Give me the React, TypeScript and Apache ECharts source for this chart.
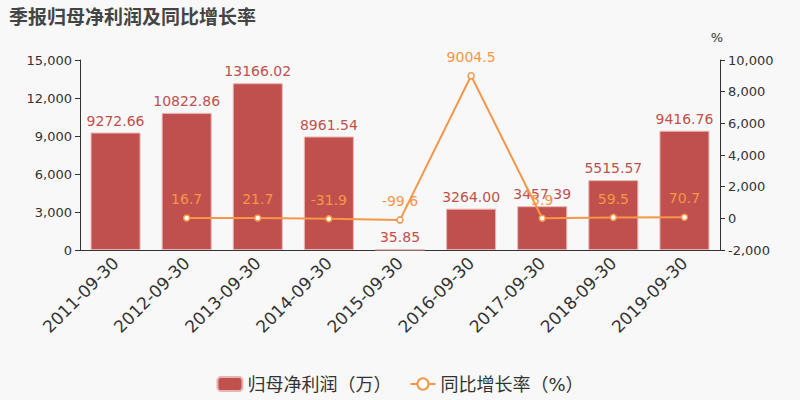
import React, { useEffect, useRef } from 'react';
import * as echarts from 'echarts';

const categories = [
  '2011-09-30', '2012-09-30', '2013-09-30', '2014-09-30', '2015-09-30',
  '2016-09-30', '2017-09-30', '2018-09-30', '2019-09-30'
];
const profitValues = [9272.66, 10822.86, 13166.02, 8961.54, 35.85, 3264.0, 3457.39, 5515.57, 9416.76];
const growthValues: (number | null)[] = [null, 16.7, 21.7, -31.9, -99.6, 9004.5, 5.9, 59.5, 70.7];

const BAR_COLOR = '#c0504d';
const LINE_COLOR = '#f79646';
const FONT = '"DejaVu Sans", "Noto Sans CJK SC", sans-serif';

const App: React.FC = () => {
  const chartRef = useRef<HTMLDivElement>(null);

  useEffect(() => {
    if (!chartRef.current) return;
    document.body.style.margin = '0';
    const chart = echarts.init(chartRef.current, undefined, { renderer: 'svg' });

    const option = {
      animation: false,
      backgroundColor: '#f8f8f8',
      textStyle: { fontFamily: FONT },
      title: {
        text: '季报归母净利润及同比增长率',
        left: 4,
        top: 2,
        textStyle: { fontSize: 19, fontWeight: 'bold', color: '#444', fontFamily: FONT }
      },
      legend: {
        bottom: 2,
        itemWidth: 25,
        itemHeight: 14,
        itemGap: 18,
        textStyle: { fontSize: 18, color: '#333', fontFamily: FONT },
        data: [
          { name: '归母净利润（万）' },
          { name: '同比增长率（%）' }
        ]
      },
      grid: { left: 80, right: 80, top: 60, bottom: 150 },
      xAxis: {
        type: 'category',
        data: categories,
        axisLine: { lineStyle: { color: '#333' } },
        axisTick: { lineStyle: { color: '#333' } },
        axisLabel: { rotate: 45, fontSize: 17, color: '#333', interval: 0, margin: 10 }
      },
      yAxis: [
        {
          type: 'value',
          min: 0,
          max: 15000,
          interval: 3000,
          axisLine: { show: true, lineStyle: { color: '#333' } },
          axisTick: { show: true },
          splitLine: { show: false },
          axisLabel: { fontSize: 13, color: '#333' }
        },
        {
          type: 'value',
          name: '%',
          nameGap: 16,
          nameTextStyle: { fontSize: 13, color: '#333', align: 'center', padding: [0, 0, 0, -6] },
          min: -2000,
          max: 10000,
          interval: 2000,
          axisLine: { show: true, lineStyle: { color: '#333' } },
          axisTick: { show: true },
          splitLine: { show: false },
          axisLabel: { fontSize: 13, color: '#333' }
        }
      ],
      series: [
        {
          name: '归母净利润（万）',
          type: 'bar',
          barWidth: 50,
          yAxisIndex: 0,
          data: profitValues,
          itemStyle: { color: BAR_COLOR, borderColor: '#e8b4b2', borderWidth: 1 },
          label: {
            show: true,
            position: 'top',
            fontSize: 14,
            color: BAR_COLOR,
            formatter: (p: any) => Number(p.value).toFixed(2)
          }
        },
        {
          name: '同比增长率（%）',
          type: 'line',
          yAxisIndex: 1,
          data: growthValues,
          symbol: 'circle',
          symbolSize: 6,
          lineStyle: { color: LINE_COLOR, width: 2 },
          itemStyle: { color: '#fff', borderColor: LINE_COLOR, borderWidth: 1.5 },
          label: {
            show: true,
            position: 'top',
            distance: 8,
            fontSize: 14,
            color: LINE_COLOR
          }
        }
      ]
    };

    chart.setOption(option);
    return () => {
      chart.dispose();
    };
  }, []);

  return <div ref={chartRef} style={{ width: 800, height: 400 }} />;
};

export default App;
